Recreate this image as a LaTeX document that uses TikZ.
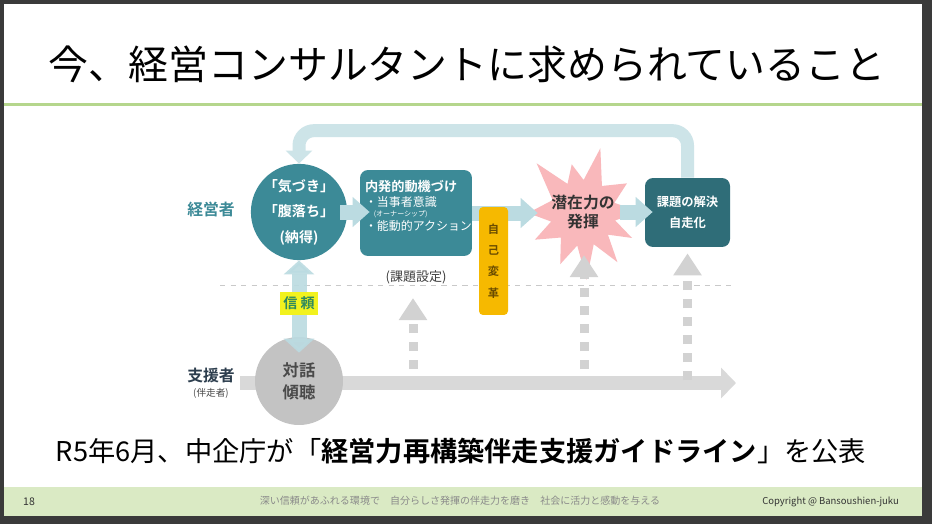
\documentclass[tikz,border=0pt]{standalone}
\usepackage{fontspec}
\setmainfont{Noto Sans CJK JP}[BoldFont={Noto Sans CJK JP Bold}]
\usepackage{xcolor}
\usetikzlibrary{arrows.meta,positioning}
\newcommand{\fsz}[2]{\fontsize{#1}{#2}\selectfont}
\definecolor{slideframe}{HTML}{3A3A3A}
\definecolor{rulegreen}{HTML}{B5D68C}
\definecolor{footband}{HTML}{DAEAC4}
\definecolor{footink}{HTML}{8A8A8A}
\definecolor{tealc}{HTML}{3C8A97}
\definecolor{tealdark}{HTML}{2F6D78}
\definecolor{flowc}{HTML}{BBDBE1}
\definecolor{loopc}{HTML}{CDE4E8}
\definecolor{discgray}{HTML}{C3C3C3}
\definecolor{discink}{HTML}{4A4A4A}
\definecolor{supportc}{HTML}{D9D9D9}
\definecolor{dotc}{HTML}{D2D2D2}
\definecolor{burstpink}{HTML}{F9B8BB}
\definecolor{selfyellow}{HTML}{F6B900}
\definecolor{selfink}{HTML}{6A4C00}
\definecolor{trusthl}{HTML}{F2F21E}
\definecolor{trustink}{HTML}{2F8A5E}
\definecolor{shienink}{HTML}{2D3E4E}
\definecolor{sepc}{HTML}{C9C9C9}

\begin{document}
\begin{tikzpicture}[x=0.02cm,y=-0.02cm,
  tealdisc/.style={circle,fill=tealc,text=white,inner sep=0pt,minimum size=1.68cm,align=center,font=\bfseries\fsz{8}{14.5}},
  graydisc/.style={circle,fill=discgray,text=discink,inner sep=0pt,minimum size=1.76cm,align=center,font=\bfseries\fsz{9.3}{12.5}},
  tealbox/.style={rounded corners=0.16cm,fill=tealc,inner sep=0pt},
  flowarrow/.style={draw=flowc,line width=0.3cm,-{Triangle[width=0.58cm,length=0.34cm]}},
  dotarrow/.style={draw=dotc,line width=0.18cm,dash pattern=on 0.18cm off 0.18cm,-{Triangle[width=0.54cm,length=0.44cm]}},
  sidelabel/.style={inner sep=0pt,font=\bfseries\fsz{9}{11}}]
  \useasboundingbox (0,0) rectangle (932,524);
  % slide frame
  \fill[slideframe] (0,0) rectangle (932,524);
  \fill[white] (4,4) rectangle (922,516);
  \fill[footband] (4,487) rectangle (922,516);
  \draw[rulegreen,line width=0.06cm] (4,104) -- (922,104);
  \node[font=\fsz{22.7}{27}] (title) at (467,64) {今、経営コンサルタントに求められていること};

  % separator between the two actors
  \draw[sepc,dashed,line width=0.4pt] (220,285) -- (734,285);

  % burst behind its label
  \begin{scope}[shift={(583,213)}]
    \fill[burstpink] (-133:68) \foreach \a/\r in {-118/33,-103/50,-89/33,-75/67,-55/33,-34/53,-18/33,-1/57,13/33,
      27/55,41/33,55/60,71/33,87/67,100/33,114/56,132/33,151/55,165/33,180/55,203/33}{ -- (\a:\r) } -- cycle;
  \end{scope}

  % support line and its dotted pushes
  \coordinate (supportstart) at (240,383);
  \coordinate (supportend) at (736,383);
  \coordinate (pushA) at (413,387);
  \coordinate (tipA) at (413,298);
  \coordinate (pushB) at (584,387);
  \coordinate (tipB) at (584,255);
  \draw[dotarrow] (pushA) -- (tipA);
  \draw[dotarrow] (pushB) -- (tipB);
  \draw[draw=supportc,line width=0.28cm,-{Triangle[width=0.6cm,length=0.3cm]}] (supportstart) -- (supportend);

  % actors
  \node[sidelabel,text=tealc] (keiei) at (211,209) {経営者};
  \node[sidelabel,text=shienink] (shien) at (211,375) {支援者};
  \node[below=0.1cm of shien,inner sep=0pt,font=\fsz{5.5}{7},text=discink] (bansou) {(伴走者)};

  \node[tealdisc] (kizuki) at (299,212) {「気づき」\\「腹落ち」\\(納得)};
  \node[tealbox,minimum width=2.24cm,minimum height=1.72cm] (naihatsu) at (416,213) {};
  \node[anchor=north west,inner sep=0pt,align=left,text=white,font=\fsz{6.8}{8.5}] (naihatsutxt)
    at ([shift={(5,10)}]naihatsu.north west)
    {{\bfseries\fsz{7.5}{8.5}内発的動機づけ}\\・当事者意識\\[-2.8pt]{\fsz{4}{5}\hspace{5pt}(オーナーシップ)}\\[-0.5pt]・能動的アクション};
  \node[below=0.28cm of naihatsu,inner sep=0pt,font=\fsz{7.4}{9},text=black!75] (kadai) {(課題設定)};
  \node[minimum width=1.8cm,inner sep=0pt,align=center,text=black!80,font=\bfseries\fsz{9}{11.3}] (senzai) at (583,212) {潜在力の\\発揮};
  \node[tealbox,fill=tealdark,minimum width=1.7cm,minimum height=1.38cm,align=center,text=white,
    font=\bfseries\fsz{7}{12}] (kaiketsu) at (687.5,212.5) {課題の解決\\自走化};
  \coordinate (pushC) at (kaiketsu.south |- supportend);
  \draw[dotarrow] ([yshift=0.06cm]pushC) -- ([yshift=-0.12cm]kaiketsu.south);

  \node[graydisc] (taiwa) at (299,381) {対話\\傾聴};

  % flow of the manager side
  \draw[draw=loopc,line width=0.26cm,rounded corners=0.3cm,-{Triangle[width=0.52cm,length=0.26cm]}]
    (kaiketsu.north) -- ++(0,-47) -| (kizuki.north);
  \draw[flowarrow] ([xshift=-0.14cm]kizuki.east) -- ([xshift=0.2cm]kizuki.east -| naihatsu.west);
  \draw[flowarrow] (naihatsu.east) -- (naihatsu.east -| senzai.west);
  \draw[flowarrow] ([xshift=-0.16cm]senzai.east) -- ([xshift=0.16cm]senzai.east -| kaiketsu.west);
  \draw[draw=flowc,opacity=0.9,line width=0.3cm,{Triangle[width=0.6cm,length=0.28cm]}-{Triangle[width=0.6cm,length=0.28cm]}]
    ([yshift=-0.32cm]taiwa.north) -- (kizuki.south);
  \node[fill=trusthl,text=trustink,inner xsep=0.06cm,inner ysep=0pt,minimum height=0.46cm,
    font=\bfseries\fsz{8}{9}] (shinrai) at (299,303) {信 頼};

  \node[rounded corners=0.08cm,fill=selfyellow,text=selfink,minimum width=0.58cm,minimum height=2.16cm,
    inner sep=0pt,align=center,font=\bfseries\fsz{6.4}{12.1}] (jiko) at (493.5,261) {自\\己\\変\\革};

  % headline and footer
  \node[font=\fsz{15.5}{18}] (guideline) at (461,451) {R5年6月、中企庁が「\textbf{経営力再構築伴走支援ガイドライン}」を公表};
  \node[font=\fsz{6}{7},text=black!80] (pageno) at (29,502) {18};
  \node[font=\fsz{5.7}{7},text=footink] (motto) at (460,501) {深い信頼があふれる環境で　自分らしさ発揮の伴走力を磨き　社会に活力と感動を与える};
  \node[anchor=east,font=\fsz{5.4}{7},text=black!80] (copyright) at (905,502) {Copyright @ Bansoushien-juku};
\end{tikzpicture}
\end{document}
